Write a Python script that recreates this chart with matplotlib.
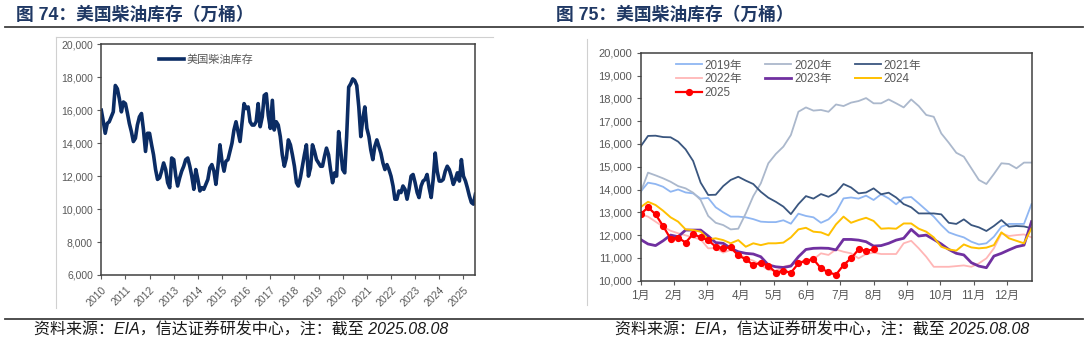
import numpy as np
import pandas as pd
import matplotlib
matplotlib.use("Agg")
import matplotlib.pyplot as plt
from matplotlib.lines import Line2D

plt.rcParams['font.family'] = ['Liberation Sans', 'Noto Sans CJK SC']
plt.rcParams['axes.unicode_minus'] = False

# ---------------- data: left chart (monthly, Jan 2010 - Jul 2025) ----------------
left_start = "2010-01-01"
left_values = [
    16000, 15300, 14600, 15200, 15300, 15600, 15900, 17500, 17300, 16700, 15900, 16500,  # 2010
    16400, 15800, 15200, 14700, 14100, 14300, 15100, 15600, 15800, 14800, 13500, 14600,  # 2011
    14600, 13900, 13300, 12400, 11800, 11900, 12300, 12800, 12400, 11600, 11300, 13100,  # 2012
    13000, 12000, 11400, 11900, 12300, 12600, 13000, 13100, 12600, 12000, 11200, 12400,  # 2013
    11800, 11100, 11300, 11200, 11500, 11800, 12500, 12700, 12300, 11500, 12600, 13900,  # 2014
    12900, 12300, 12900, 13000, 13500, 14000, 14800, 15300, 14700, 14100, 15300, 16400,  # 2015
    16100, 16200, 15300, 15100, 15100, 15300, 16400, 15000, 15600, 16900, 17000, 15700,  # 2016
    14900, 16600, 14800, 15300, 15100, 14400, 13300, 12600, 13100, 14200, 13900, 13300,  # 2017
    12600, 11600, 11400, 11900, 12600, 13300, 13900, 12000, 12500, 13900, 13500, 13000,  # 2018
    12800, 12600, 12600, 13200, 13700, 13300, 12400, 11600, 12200, 12000, 14700, 13600,  # 2019
    12400, 12200, 14400, 17400, 17600, 17900, 17800, 17500, 16200, 14400, 15500, 16200,  # 2020
    14900, 14400, 13600, 13000, 13800, 14200, 13800, 13400, 12800, 12400, 12700, 12400,  # 2021
    12000, 11400, 10600, 10600, 11100, 11000, 11400, 11200, 10600, 11200, 12000, 12100,  # 2022
    11600, 11000, 10700, 11400, 11700, 11800, 12100, 11300, 10700, 11800, 13400, 12300,  # 2023
    11700, 11700, 11800, 12300, 12600, 12400, 12000, 11500, 11800, 12200, 11700, 13000,  # 2024
    12000, 11700, 11300, 10800, 10400, 10300, 10900,                                      # 2025
]
left_years = [str(y) for y in range(2010, 2026)]
left_label = "美国柴油库存"

# ---------------- data: right chart (weekly) ----------------
months = ["1月", "2月", "3月", "4月", "5月", "6月", "7月", "8月", "9月", "10月", "11月", "12月"]

s2019 = [13900, 14300, 14240, 14120, 13900, 14000, 13870, 13830, 13600, 13630, 13220, 13000, 12810,
         12810, 12780, 12700, 12590, 12570, 12570, 12650, 12500, 12940, 12840, 12780, 12540, 12690,
         13010, 13610, 13650, 13600, 13730, 13540, 13790, 13610, 13350, 13640, 13670, 13390, 13100,
         12810, 12440, 12120, 12000, 11900, 11710, 11590, 11640, 11930, 12370, 12490, 12490, 12490, 13360]
s2020 = [13860, 14740, 14620, 14490, 14340, 14150, 14050, 13860, 13540, 12840, 12540, 12440, 12250,
         12280, 12950, 13710, 14270, 15150, 15560, 15880, 16390, 17410, 17600, 17460, 17490, 17410,
         17730, 17660, 17810, 17880, 18010, 17780, 17780, 17950, 17780, 17600, 17950, 17660, 17270,
         17190, 16460, 16050, 15610, 15440, 14930, 14420, 14240, 14680, 15150, 15120, 14930, 15180, 15180]
s2021 = [15880, 16350, 16360, 16300, 16290, 16100, 15760, 15250, 14300, 13760, 13770, 14150, 14420,
         14560, 14390, 14240, 13900, 13640, 13460, 13250, 12920, 13360, 13710, 13600, 13800, 13680,
         13860, 14240, 14090, 13830, 13870, 14050, 13790, 13860, 13650, 13360, 13220, 12950, 12950,
         12950, 12910, 12540, 12490, 12690, 12440, 12340, 12180, 12400, 12660, 12370, 12400, 12380, 12300]
s2022 = [12920, 12810, 12590, 12370, 12190, 12080, 11990, 11900, 11810, 11420, 11430, 11230, 11350,
         11200, 10980, 10880, 10690, 10470, 10440, 10610, 10690, 10790, 10910, 10940, 11200, 11130,
         11370, 11270, 11200, 10980, 11170, 11230, 11170, 11170, 11170, 11640, 11750, 11420, 11050,
         10610, 10610, 10610, 10640, 10670, 10610, 10760, 10980, 11420, 12080, 11960, 12000, 12030, 11900]
s2023 = [11810, 11610, 11540, 11750, 12000, 11930, 12220, 12220, 12220, 11960, 11670, 11640, 11420,
         11270, 11200, 11170, 11050, 10690, 10610, 10580, 10640, 11050, 11370, 11420, 11430, 11420,
         11350, 11810, 11810, 11780, 11710, 11520, 11540, 11640, 11780, 11860, 12250, 11960, 12000,
         11810, 11610, 11370, 11200, 11130, 10790, 10640, 10570, 11080, 11200, 11350, 11490, 11560, 12590]
s2024 = [13220, 13460, 13320, 13070, 12780, 12590, 12250, 12220, 12150, 11810, 11860, 11780, 11640,
         11780, 11490, 11640, 11560, 11640, 11640, 11670, 11900, 12250, 12320, 12150, 12120, 11990,
         12470, 12810, 12540, 12660, 12760, 12620, 12280, 12300, 12280, 12510, 12510, 12280, 12150,
         11900, 11490, 11370, 11320, 11590, 11460, 11420, 11450, 11560, 12120, 11860, 11750, 11640, 12300]
s2025 = [12910, 13220, 12910, 12400, 11840, 11890, 11670, 12050, 11900, 11780, 11490, 11430, 11460,
         11110, 10940, 10690, 10790, 10660, 10350, 10440, 10350, 10760, 10880, 10940, 10540, 10370,
         10260, 10690, 10980, 11370, 11320, 11370]

series = [
    ("2019年", s2019, "#8FB6F2", 1.3),
    ("2020年", s2020, "#ABB8CC", 1.3),
    ("2021年", s2021, "#3A567F", 1.3),
    ("2022年", s2022, "#FFB6B6", 1.3),
    ("2023年", s2023, "#7030A0", 2.0),
    ("2024", s2024, "#FFC000", 1.4),
]

title_color = "#1F3864"
tick_color = "#595959"

W, H = 1088, 343
fig = plt.figure(figsize=(W / 100, H / 100), dpi=100)


def fx(px):
    return px / W


def fy(py):
    return 1 - py / H


# ---------------- decorations ----------------
fig.add_artist(Line2D([fx(5), fx(1083)], [fy(26.7), fy(26.7)], color="#404040", lw=1.3))
fig.add_artist(Line2D([fx(5), fx(1083)], [fy(319), fy(319)], color="#404040", lw=1.3))
fig.add_artist(Line2D([fx(55.5), fx(55.5)], [fy(36.7), fy(308)], color="#D0D0D0", lw=0.8))
fig.add_artist(Line2D([fx(55.5), fx(492.7)], [fy(36.7), fy(36.7)], color="#D0D0D0", lw=0.8))
fig.add_artist(Line2D([fx(587), fx(587)], [fy(39.3), fy(305)], color="#D0D0D0", lw=0.8))

fig.text(fx(16.5), fy(15), "图 74：美国柴油库存（万桶）", fontsize=12.8, fontweight="bold",
         color=title_color, va="center", ha="left")
fig.text(fx(556), fy(15), "图 75：美国柴油库存（万桶）", fontsize=12.8, fontweight="bold",
         color=title_color, va="center", ha="left")
foot = "资料来源：EIA，信达证券研发中心，注：截至 2025.08.08"
fig.text(fx(34.5), fy(330), foot, fontsize=11.5, style="italic", color="#1A1A1A", va="center", ha="left")
fig.text(fx(615), fy(330), foot, fontsize=11.5, style="italic", color="#1A1A1A", va="center", ha="left")

# ---------------- left chart ----------------
axL = fig.add_axes([fx(101.3), fy(275), fx(475.4 - 101.3), (275 - 44.3) / H])
dates = pd.date_range(left_start, periods=len(left_values), freq="MS")
axL.plot(dates, left_values, color="#0B2C64", lw=2.6, label=left_label, solid_joinstyle="round")
axL.set_ylim(6000, 20000)
axL.set_yticks(np.arange(6000, 20001, 2000))
axL.yaxis.set_major_formatter(matplotlib.ticker.FuncFormatter(lambda v, p: f"{int(v):,}"))
year_ticks = pd.to_datetime([f"{y}-01-01" for y in left_years])
axL.set_xticks(year_ticks)
axL.set_xticklabels(left_years, rotation=45, ha="right", rotation_mode="anchor")
axL.set_xlim(pd.Timestamp("2010-01-01"), dates[-1])
axL.tick_params(axis="y", labelsize=7.5, colors=tick_color, length=3, width=0.8, direction="out", pad=3)
axL.tick_params(axis="x", labelsize=7.5, colors=tick_color, length=3, width=0.8, direction="out", pad=4)
for sp in axL.spines.values():
    sp.set_color("#404040")
    sp.set_linewidth(1.1)
axL.legend(loc="upper left", bbox_to_anchor=((159 - 101.3) / 374.1, (275 - 54) / 230.7),
           frameon=False, fontsize=8, handlelength=2.25, handletextpad=0.25, borderpad=0,
           borderaxespad=0, labelcolor=tick_color)

# ---------------- right chart ----------------
axR = fig.add_axes([fx(640.5), fy(280.7), fx(1031.5 - 640.5), (280.7 - 52.7) / H])
handles = {}
for name, vals, col, lw in series:
    h, = axR.plot(np.arange(len(vals)), vals, color=col, lw=lw, label=name)
    handles[name] = h
h25, = axR.plot(np.arange(len(s2025)), s2025, color="#FF0000", lw=1.6, marker="o", ms=4.2,
                label="2025")
handles["2025"] = h25
axR.set_xlim(0, 52)
axR.set_ylim(10000, 20000)
axR.set_yticks(np.arange(10000, 20001, 1000))
axR.yaxis.set_major_formatter(matplotlib.ticker.FuncFormatter(lambda v, p: f"{int(v):,}"))
axR.set_xticks(np.arange(len(months)) * 4.43)
axR.set_xticklabels(months)
axR.tick_params(axis="y", labelsize=8, colors=tick_color, length=3, width=0.8, direction="out", pad=3)
axR.tick_params(axis="x", labelsize=8.5, colors=tick_color, length=3, width=0.8, direction="out", pad=4)
for sp in axR.spines.values():
    sp.set_color("#404040")
    sp.set_linewidth(1.1)
order = ["2019年", "2022年", "2025", "2020年", "2023年", "2021年", "2024"]
axR.legend([handles[k] for k in order], order, ncol=3, loc="upper left",
           bbox_to_anchor=((675.9 - 640.5) / 391, (280.7 - 59.5) / 228),
           frameon=False, fontsize=8.4, handlelength=2.2, handletextpad=0.25, borderpad=0,
           borderaxespad=0, columnspacing=2.0, labelspacing=0.15, labelcolor=tick_color)

fig.savefig("out.png", dpi=100)
